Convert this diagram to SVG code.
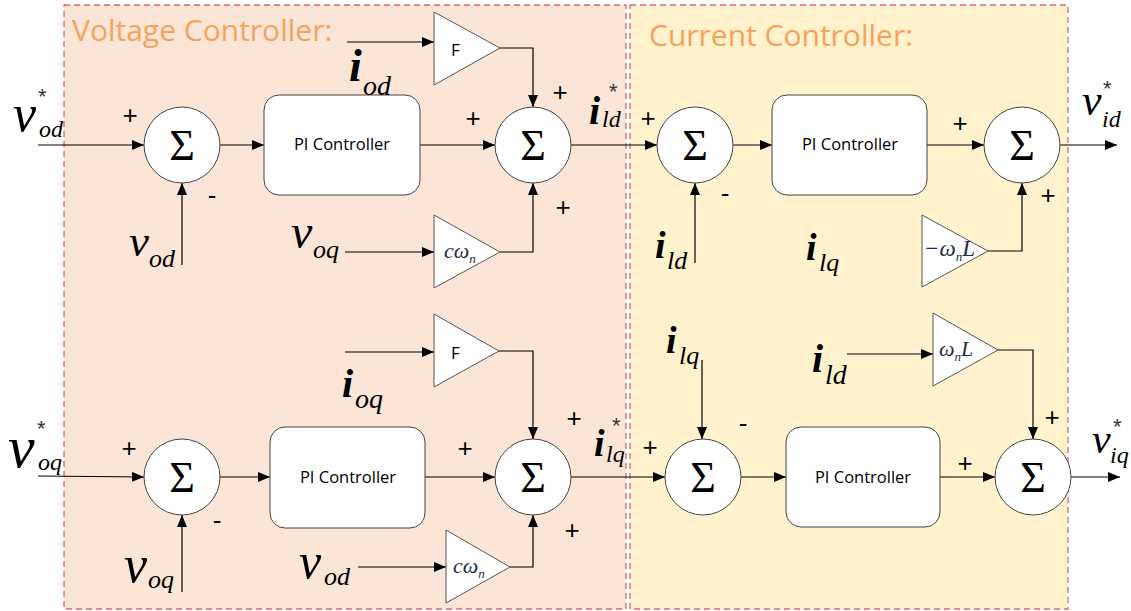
<svg xmlns="http://www.w3.org/2000/svg" width="1131" height="611" viewBox="0 0 1131 611">
<defs>
<marker id="ah" markerWidth="12" markerHeight="10" refX="12" refY="5" orient="auto" markerUnits="userSpaceOnUse">
<path d="M0,0 L12,5 L0,10 z" fill="#000"/>
</marker>
<style>
.panel{stroke:#D96A6A;stroke-width:1.3;stroke-dasharray:6,4}
.title{font-family:"Open Sans","Liberation Sans",sans-serif;font-size:30px;fill:#F5A35C}
.ln{stroke:#000;stroke-width:1.2;fill:none;marker-end:url(#ah)}
.sum{fill:#fff;stroke:#444;stroke-width:1}
.sig{font-family:"Liberation Serif","DejaVu Serif",serif;font-size:44px;text-anchor:middle;fill:#000}
.pi{fill:#fff;stroke:#444;stroke-width:1}
.pit{font-family:"Open Sans","Liberation Sans",sans-serif;font-size:16.5px;text-anchor:middle;fill:#000}
.tri{fill:#fff;stroke:#555;stroke-width:1}
.f{font-family:"Open Sans","Liberation Sans",sans-serif;font-size:17px;fill:#000}
.g{font-family:"Liberation Serif","DejaVu Serif",serif;font-style:italic;fill:#1F2A4A}
.m{font-family:"Liberation Serif","DejaVu Serif",serif;font-style:italic;fill:#000}
.b{font-weight:bold}
.sg{font-family:"Liberation Sans",sans-serif;font-size:26px;text-anchor:middle;fill:#000}
.st{font-family:"Liberation Sans",sans-serif;font-size:22px;fill:#333}
</style>
</defs>

<g id="voltage-panel">
<rect class="panel" x="64" y="5" width="562" height="604" fill="#FBE5D6"/>
<text class="title" x="72" y="41">Voltage Controller:</text>
</g>
<g id="current-panel">
<rect class="panel" x="630" y="5" width="438" height="604" fill="#FFF2CC"/>
<text class="title" x="649" y="46">Current Controller:</text>
</g>

<g id="connectors">
<path class="ln" d="M38,145 L144,145"/>
<path class="ln" d="M182,265 L182,183"/>
<path class="ln" d="M220,145 L264,145"/>
<path class="ln" d="M420,145 L495,145"/>
<path class="ln" d="M347,42 L434,42"/>
<path class="ln" d="M500,48 L533,48 L533,107"/>
<path class="ln" d="M345,252 L434,252"/>
<path class="ln" d="M500,252 L533,252 L533,183"/>
<path class="ln" d="M571,145 L657,145"/>
<path class="ln" d="M695,263 L695,183"/>
<path class="ln" d="M733,145 L772,145"/>
<path class="ln" d="M927,145 L984,145"/>
<path class="ln" d="M988,251 L1022,251 L1022,183"/>
<path class="ln" d="M1060,145 L1117,145"/>

<path class="ln" d="M38,476 L144,477"/>
<path class="ln" d="M182,592 L182,515"/>
<path class="ln" d="M220,477 L270,477"/>
<path class="ln" d="M425,477 L495,477"/>
<path class="ln" d="M345,352 L434,352"/>
<path class="ln" d="M499,351 L533,351 L533,439"/>
<path class="ln" d="M358,567 L446,567"/>
<path class="ln" d="M510,567 L533,567 L533,515"/>
<path class="ln" d="M571,477 L665,477"/>
<path class="ln" d="M702,360 L702,439"/>
<path class="ln" d="M741,477 L786,477"/>
<path class="ln" d="M940,477 L995,477"/>
<path class="ln" d="M847,354 L933,354"/>
<path class="ln" d="M998,350 L1033,350 L1033,439"/>
<path class="ln" d="M1071,477 L1120,477"/>
</g>

<!-- Top voltage row -->
<g id="sum-v1">
<circle class="sum" cx="182" cy="145" r="38"/>
<text class="sig" x="182" y="160">Σ</text>
<text class="sg" x="130" y="124">+</text>
<text class="sg" x="212" y="204">-</text>
</g>
<g id="pi-v1">
<rect class="pi" x="264" y="95" width="156" height="100" rx="15"/>
<text class="pit" x="342" y="150">PI Controller</text>
</g>
<g id="sum-v2">
<circle class="sum" cx="533" cy="145" r="38"/>
<text class="sig" x="533" y="160">Σ</text>
<text class="sg" x="473" y="127">+</text>
<text class="sg" x="560" y="101">+</text>
<text class="sg" x="563" y="216">+</text>
</g>
<g id="gain-f1">
<polygon class="tri" points="434,12 434,85 500,48"/>
<text class="f" x="451" y="56">F</text>
</g>
<g id="gain-cw1">
<polygon class="tri" points="434,215 434,288 500,252"/>
<text class="g" x="444" y="258" font-size="22">cω<tspan font-size="13" dy="5">n</tspan></text>
</g>
<g id="lbl-vod-star">
<text class="m" x="13" y="131" font-size="52">v</text>
<text class="m" x="39" y="137" font-size="24">od</text>
<text class="st" x="38" y="104">*</text>
</g>
<g id="lbl-vod1">
<text class="m" x="129" y="256" font-size="45">v</text>
<text class="m" x="149" y="267" font-size="26">od</text>
</g>
<g id="lbl-voq1">
<text class="m" x="291" y="248" font-size="48">v</text>
<text class="m" x="313" y="258" font-size="26">oq</text>
</g>
<g id="lbl-iod">
<text class="m b" x="349" y="81" font-size="46">i</text>
<text class="m" x="363" y="95" font-size="28">od</text>
</g>
<g id="lbl-ild-star">
<text class="m b" x="589" y="124" font-size="40">i</text>
<text class="m" x="602" y="127" font-size="24">ld</text>
<text class="st" x="609" y="99">*</text>
</g>

<!-- Top current row -->
<g id="sum-c1">
<circle class="sum" cx="695" cy="145" r="38"/>
<text class="sig" x="695" y="160">Σ</text>
<text class="sg" x="648" y="127">+</text>
<text class="sg" x="725" y="202">-</text>
</g>
<g id="pi-c1">
<rect class="pi" x="772" y="95" width="155" height="100" rx="15"/>
<text class="pit" x="850" y="150">PI Controller</text>
</g>
<g id="sum-c2">
<circle class="sum" cx="1022" cy="145" r="38"/>
<text class="sig" x="1022" y="160">Σ</text>
<text class="sg" x="960" y="132">+</text>
<text class="sg" x="1048" y="204">+</text>
</g>
<g id="gain-wl1">
<polygon class="tri" points="922,215 922,287 988,251"/>
<text class="g" x="924" y="256" font-size="23">−ω<tspan font-size="13" dy="5">n</tspan><tspan dy="-5">L</tspan></text>
</g>
<g id="lbl-ild1">
<text class="m b" x="655" y="258" font-size="38">i</text>
<text class="m" x="667" y="269" font-size="26">ld</text>
</g>
<g id="lbl-ilq1">
<text class="m b" x="806" y="260" font-size="38">i</text>
<text class="m" x="819" y="271" font-size="26">lq</text>
</g>
<g id="lbl-vid-star">
<text class="m" x="1082" y="115" font-size="44">v</text>
<text class="m" x="1102" y="127" font-size="24">id</text>
<text class="st" x="1103" y="96">*</text>
</g>

<!-- Bottom voltage row -->
<g id="sum-v3">
<circle class="sum" cx="182" cy="477" r="38"/>
<text class="sig" x="182" y="492">Σ</text>
<text class="sg" x="129" y="457">+</text>
<text class="sg" x="217" y="529">-</text>
</g>
<g id="pi-v2">
<rect class="pi" x="270" y="427" width="155" height="101" rx="15"/>
<text class="pit" x="348" y="483">PI Controller</text>
</g>
<g id="sum-v4">
<circle class="sum" cx="533" cy="477" r="38"/>
<text class="sig" x="533" y="492">Σ</text>
<text class="sg" x="465" y="457">+</text>
<text class="sg" x="574" y="427">+</text>
<text class="sg" x="572" y="539">+</text>
</g>
<g id="gain-f2">
<polygon class="tri" points="434,314 434,387 499,351"/>
<text class="f" x="451" y="359">F</text>
</g>
<g id="gain-cw2">
<polygon class="tri" points="446,530 446,603 510,567"/>
<text class="g" x="453" y="573" font-size="22">cω<tspan font-size="13" dy="5">n</tspan></text>
</g>
<g id="lbl-voq-star">
<text class="m" x="8" y="467" font-size="60">v</text>
<text class="m" x="38" y="470" font-size="24">oq</text>
<text class="st" x="37" y="436">*</text>
</g>
<g id="lbl-voq2">
<text class="m" x="124" y="582" font-size="52">v</text>
<text class="m" x="148" y="588" font-size="26">oq</text>
</g>
<g id="lbl-vod2">
<text class="m" x="299" y="578" font-size="50">v</text>
<text class="m" x="324" y="585" font-size="26">od</text>
</g>
<g id="lbl-ioq">
<text class="m b" x="342" y="397" font-size="40">i</text>
<text class="m" x="355" y="408" font-size="28">oq</text>
</g>
<g id="lbl-ilq-star">
<text class="m b" x="594" y="456" font-size="38">i</text>
<text class="m" x="606" y="462" font-size="24">lq</text>
<text class="st" x="612" y="433">*</text>
</g>

<!-- Bottom current row -->
<g id="sum-c3">
<circle class="sum" cx="703" cy="477" r="38"/>
<text class="sig" x="703" y="492">Σ</text>
<text class="sg" x="650" y="456">+</text>
<text class="sg" x="743" y="432">-</text>
</g>
<g id="pi-c2">
<rect class="pi" x="786" y="427" width="154" height="100" rx="15"/>
<text class="pit" x="863" y="483">PI Controller</text>
</g>
<g id="sum-c4">
<circle class="sum" cx="1033" cy="477" r="38"/>
<text class="sig" x="1033" y="492">Σ</text>
<text class="sg" x="965" y="472">+</text>
<text class="sg" x="1052" y="426">+</text>
</g>
<g id="gain-wl2">
<polygon class="tri" points="933,313 933,386 998,350"/>
<text class="g" x="939" y="356" font-size="22">ω<tspan font-size="13" dy="5">n</tspan><tspan dy="-5">L</tspan></text>
</g>
<g id="lbl-ilq2">
<text class="m b" x="666" y="353" font-size="38">i</text>
<text class="m" x="679" y="364" font-size="26">lq</text>
</g>
<g id="lbl-ild2">
<text class="m b" x="812" y="372" font-size="40">i</text>
<text class="m" x="825" y="384" font-size="28">ld</text>
</g>
<g id="lbl-viq-star">
<text class="m" x="1092" y="453" font-size="42">v</text>
<text class="m" x="1110" y="463" font-size="24">iq</text>
<text class="st" x="1113" y="434">*</text>
</g>
</svg>
